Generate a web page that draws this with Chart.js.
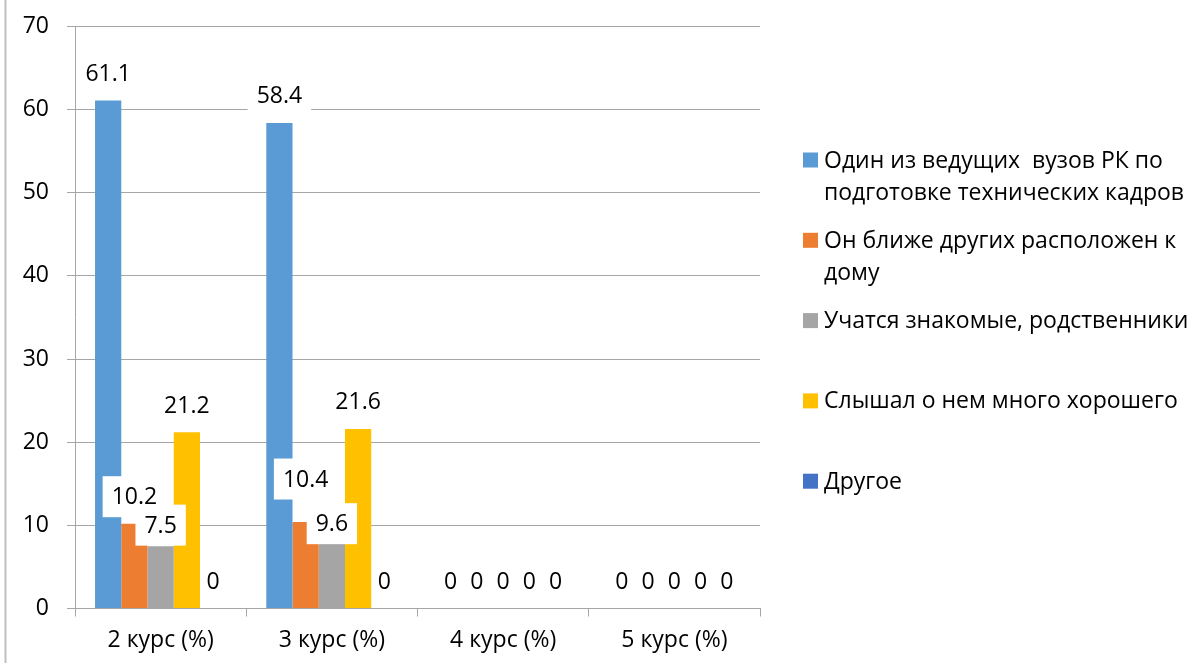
<!DOCTYPE html>
<html>
<head>
<meta charset="utf-8">
<script src="https://cdn.jsdelivr.net/npm/chart.js@4"></script>
<style>
  body { margin: 0; background: #fff; }
  canvas { display: block; }
</style>
</head>
<body>
<canvas id="chart" width="1192" height="666"></canvas>
<script>
// course labels along the x axis
let courses = ['2 курс (%)', '3 курс (%)', '4 курс (%)', '5 курс (%)']

// one array per answer (values in %)
let leadingUni = [61.1, 58.4, 0, 0]
let closeToHome = [10.2, 10.4, 0, 0]
let relatives = [7.5, 9.6, 0, 0]
let goodReputation = [21.2, 21.6, 0, 0]
let other = [0, 0, 0, 0]

// legend names, split the way they wrap in the picture
let seriesNames = [
  ['Один из ведущих  вузов РК по', 'подготовке технических кадров'],
  ['Он ближе других расположен к', 'дому'],
  ['Учатся знакомые, родственники'],
  ['Слышал о нем много хорошего'],
  ['Другое']
]

let yTicks = [0, 10, 20, 30, 40, 50, 60, 70]

let colors = ['#5B9BD5', '#ED7D31', '#A5A5A5', '#FFC000', '#4472C4']
let seriesValues = [leadingUni, closeToHome, relatives, goodReputation, other]

let font = "'Open Sans', 'Noto Sans', sans-serif"
let gridColor = '#a6a6a6'

// white boxed value labels above each bar
let valueLabels = {
  id: 'valueLabels',
  afterDatasetsDraw (chart, args, opts) {
    let ctx = chart.ctx
    ctx.save()
    ctx.font = '23px ' + font
    ctx.textAlign = 'center'
    ctx.textBaseline = 'middle'
    chart.data.datasets.forEach((ds, i) => {
      let meta = chart.getDatasetMeta(i)
      meta.data.forEach((bar, j) => {
        let text = String(ds.data[j])
        let shift = opts.shift[i + '-' + j] || 0
        let cy = bar.y - 27 + shift
        let w = ctx.measureText(text).width + 18
        if (ds.data[j] !== 0) {
          ctx.fillStyle = '#fff'
          ctx.fillRect(bar.x - w / 2, cy - 20.5, w, 41)
        }
        ctx.fillStyle = '#000'
        ctx.fillText(text, bar.x, cy + 1)
      })
    })
    ctx.restore()
  }
}

// legend on the right side, with wrapped names
let sideLegend = {
  id: 'sideLegend',
  afterDraw (chart) {
    let ctx = chart.ctx
    ctx.save()
    ctx.font = '23px ' + font
    ctx.textBaseline = 'middle'
    ctx.textAlign = 'left'
    seriesNames.forEach((lines, i) => {
      let y = 160 + i * 80.3
      ctx.fillStyle = colors[i]
      ctx.fillRect(803, y - 7.5, 15, 15)
      ctx.fillStyle = '#000'
      lines.forEach((line, k) => {
        ctx.fillText(line, 824, y + k * 32 + 1)
      })
    })
    // left edge of the chart frame
    ctx.strokeStyle = '#bfbfbf'
    ctx.lineWidth = 2
    ctx.beginPath()
    ctx.moveTo(5.5, 0)
    ctx.lineTo(5.5, 663)
    ctx.stroke()
    ctx.restore()
  }
}

let chartEl = document.getElementById('chart').getContext('2d')
let chart = new Chart(chartEl, {
  type: 'bar',
  data: {
    labels: courses,
    datasets: seriesValues.map((vals, i) => ({
      label: seriesNames[i].join(' '),
      data: vals,
      backgroundColor: colors[i],
      barPercentage: 1,
      categoryPercentage: 0.766
    }))
  },
  plugins: [valueLabels, sideLegend],
  options: {
    responsive: false,
    animation: false,
    layout: {
      padding: { left: 0, top: 26.5, right: 432, bottom: 0 }
    },
    plugins: {
      legend: { display: false },
      tooltip: { enabled: false },
      valueLabels: {
        shift: { '2-0': 6, '1-1': -16, '2-1': 22 }
      }
    },
    scales: {
      x: {
        afterFit: s => { s.height = 57.5 },
        grid: {
          offset: true,
          drawOnChartArea: false,
          tickLength: 8,
          color: gridColor
        },
        border: { color: gridColor },
        ticks: {
          color: '#000',
          padding: 10,
          font: { family: font, size: 23 }
        }
      },
      y: {
        min: 0,
        max: 70,
        afterFit: s => { s.width = 75 },
        afterBuildTicks: s => { s.ticks = yTicks.map(v => ({ value: v })) },
        grid: {
          color: gridColor,
          tickLength: 8
        },
        border: { color: gridColor },
        ticks: {
          color: '#000',
          padding: 18,
          font: { family: font, size: 23, lineHeight: 0.6 }
        }
      }
    }
  }
})
</script>
</body>
</html>
